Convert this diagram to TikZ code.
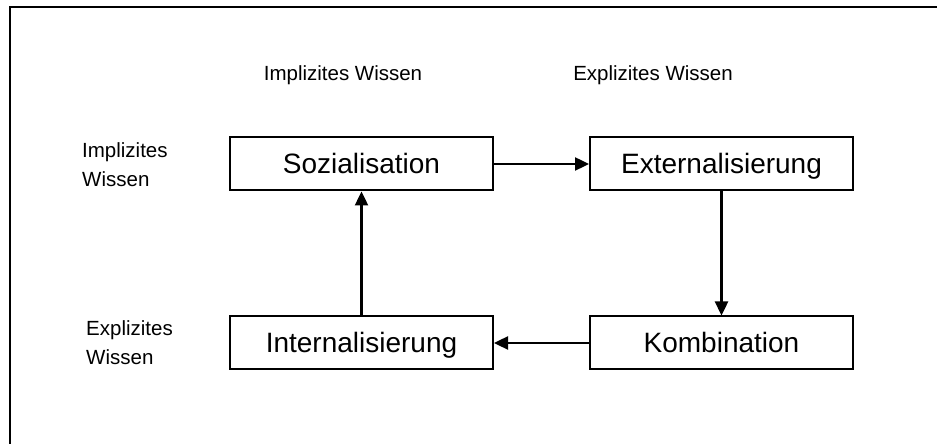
\documentclass[tikz,border=0pt]{standalone}
\usepackage{fontspec}
\setmainfont{Liberation Sans}
\usetikzlibrary{arrows.meta}
\begin{document}
\begin{tikzpicture}[x=1pt,y=1pt,
  phase/.style={draw, line width=2pt, minimum width=263pt, minimum height=53pt,
    inner sep=0pt, text height=22pt, text depth=3pt,
    font=\fontsize{28}{32}\selectfont},
  axislabel/.style={font=\fontsize{20.5}{29}\selectfont, inner sep=0pt},
  flow/.style={line width=2.4pt, -{Triangle[length=14pt,width=13pt]}}]
  \useasboundingbox (0,0) rectangle (937,444);
  % open frame: left and top edges only
  \draw[line width=2.8pt] (10,0) -- (10,437) -- (937,437);

  % column headings
  \node[axislabel] (colimp) at (343,369) {Implizites Wissen};
  \node[axislabel] (colexp) at (653,369) {Explizites Wissen};

  % row headings
  \node[axislabel, anchor=west, align=left] (rowimp) at (82,279) {Implizites\\Wissen};
  \node[axislabel, anchor=west, align=left] (rowexp) at (86,101) {Explizites\\Wissen};

  % the four conversion phases
  \node[phase] (soz) at (361.5,280) {Sozialisation};
  \node[phase] (ext) at (721.5,280) {Externalisierung};
  \node[phase] (int) at (361.5,101) {Internalisierung};
  \node[phase] (kom) at (721.5,101) {Kombination};

  % knowledge spiral
  \draw[flow] (soz) -- (ext);
  \draw[flow] (ext) -- (kom);
  \draw[flow] (kom) -- (int);
  \draw[flow] (int) -- (soz);
\end{tikzpicture}
\end{document}
